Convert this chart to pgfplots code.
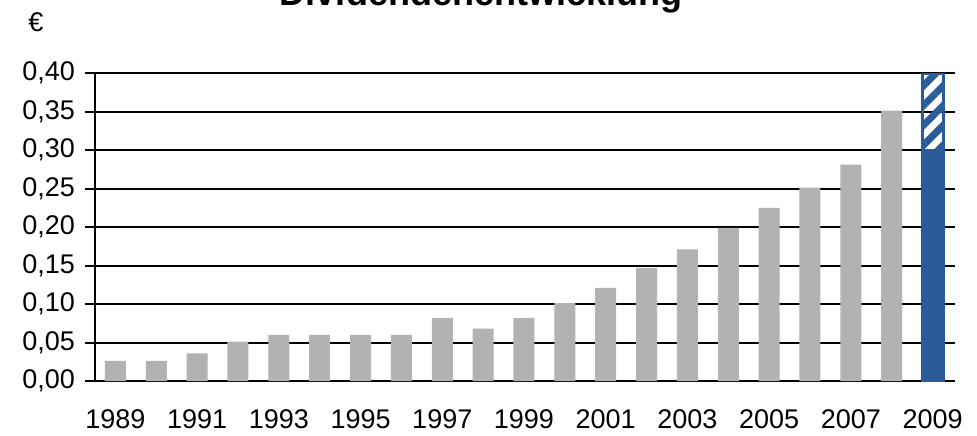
\documentclass[border=0pt]{standalone}
\usepackage{fontspec}
\setmainfont{Liberation Sans}
\usepackage{pgfplots}
\pgfplotsset{compat=1.18}
\usetikzlibrary{patterns.meta}
\definecolor{barGrey}{HTML}{B2B2B2}
\definecolor{barBlue}{HTML}{2A5C9A}
% grid behind the bars, axis lines in front of them
\pgfplotsset{
    layers/bars between/.define layer set={
        axis background,axis grid,main,axis ticks,axis lines,
        axis tick labels,axis descriptions,axis foreground
    }{},
}

\begin{document}
\begin{tikzpicture}
\begin{axis}[
    set layers=bars between,
    scale only axis,
    width=430pt, height=154pt,
    xmin=1988.5, xmax=2009.55,
    ymin=0, ymax=0.40,
    ybar, bar width=10.5pt, bar shift=0pt,
    axis x line*=bottom, axis y line*=left,
    axis line style={-, line width=1pt},
    ymajorgrids, grid style={black, line width=1pt},
    ytick={0,0.05,0.10,0.15,0.20,0.25,0.30,0.35,0.40},
    xtick={1989,1991,1993,1995,1997,1999,2001,2003,2005,2007,2009},
    xticklabels={1989,1991,1993,1995,1997,1999,2001,2003,2005,2007,2009},
    xtick style={draw=none},
    ytick style={black, line width=1pt},
    tick align=outside, major tick length=5pt,
    tick label style={font=\fontsize{13.5}{16}\selectfont},
    xticklabel style={yshift=-6pt},
    yticklabel style={xshift=-1.5pt, /pgf/number format/.cd, fixed, fixed zerofill, precision=2, use comma},
    /pgf/number format/assume math mode=true,
]
% Dividende 1989-2008
\addplot[fill=barGrey, draw=none] coordinates {
    (1989,0.026) (1990,0.026) (1991,0.036) (1992,0.051) (1993,0.060)
    (1994,0.060) (1995,0.060) (1996,0.060) (1997,0.082) (1998,0.068)
    (1999,0.082) (2000,0.101) (2001,0.121) (2002,0.147) (2003,0.171)
    (2004,0.199) (2005,0.225) (2006,0.251) (2007,0.281) (2008,0.351)
};
% 2009: Spanne bis 0,40 (schraffiert)
\addplot[draw=barBlue, line width=1.5pt,
    pattern={Lines[angle=45, distance=7pt, line width=3.5pt]},
    pattern color=barBlue] coordinates {(2009,0.40)};
% 2009: Mindestdividende
\addplot[fill=barBlue, draw=barBlue, line width=1.5pt] coordinates {(2009,0.30)};
\end{axis}
\node[anchor=base, font=\bfseries\fontsize{18}{20}\selectfont]
    at ([shift={(193pt,188pt)}]current axis.south west) {Dividendenentwicklung};
\node[font=\fontsize{13.5}{16}\selectfont]
    at ([shift={(-29.5pt,179.5pt)}]current axis.south west) {€};
\pgfresetboundingbox
\path[use as bounding box] ([shift={(-47.5pt,-27pt)}]current axis.south west)
    rectangle ([shift={(441pt,190.5pt)}]current axis.south west);
\end{tikzpicture}
\end{document}
